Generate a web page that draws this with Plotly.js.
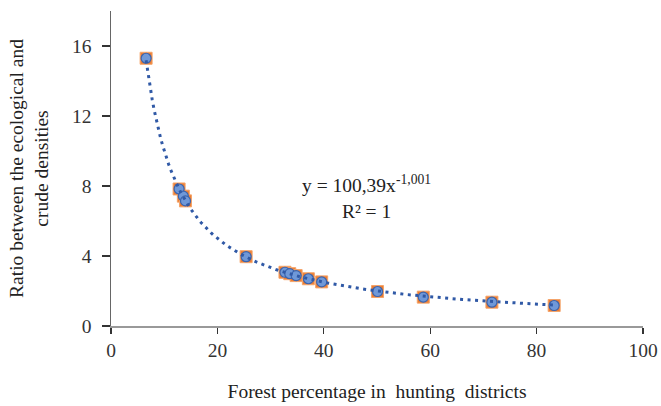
<!DOCTYPE html>
<html>
<head>
<meta charset="utf-8">
<script src="https://cdn.plot.ly/plotly-3.0.1.min.js"></script>
<style>body{margin:0;padding:0;background:#fff}#chart{width:661px;height:406px}</style>
</head>
<body>
<div id="chart"></div>
<script>
// Data
var forestPct = [6.6, 12.8, 13.6, 14.0, 25.4, 32.7, 33.6, 34.8, 37.1, 39.6, 50.1, 58.7, 71.6, 83.3];
var densityRatio = [15.3, 7.83, 7.42, 7.15, 3.96, 3.07, 2.99, 2.88, 2.70, 2.52, 1.97, 1.65, 1.36, 1.17];
// Power trendline coefficients shown on the chart: y = a * x^b
var trendA = 100.39;
var trendB = -1.001;
var xTicks = [0, 20, 40, 60, 80, 100];
var yTicks = [0, 4, 8, 12, 16];

var xMin = Math.min.apply(null, forestPct), xMax = Math.max.apply(null, forestPct);
var tx = [], ty = [];
for (var i = 0; i <= 200; i++) {
  var x = xMin + (xMax - xMin) * i / 200;
  tx.push(x); ty.push(trendA * Math.pow(x, trendB));
}

var font = 'Liberation Serif, Times New Roman, serif';
var traces = [
  {x: forestPct, y: densityRatio, mode: 'markers', type: 'scatter',
   marker: {symbol: 'square', size: 12, color: '#ED7D31', line: {color: '#F4A46A', width: 1}}, hoverinfo: 'none'},
  {x: forestPct, y: densityRatio, mode: 'markers', type: 'scatter',
   marker: {symbol: 'circle', size: 10, color: '#6F98D8', line: {color: '#3B64AD', width: 1.2}}, hoverinfo: 'none'},
  {x: tx, y: ty, mode: 'lines', type: 'scatter',
   line: {color: '#3059A6', width: 3, dash: '3px,4.5px'}, hoverinfo: 'none'}
];

var layout = {
  width: 661, height: 406,
  margin: {l: 111, r: 18, t: 11, b: 80},
  showlegend: false,
  paper_bgcolor: '#fff', plot_bgcolor: '#fff',
  font: {family: font, size: 19.5, color: '#333'},
  xaxis: {
    range: [0, 100], tickvals: xTicks, ticktext: xTicks.map(String),
    showgrid: false, zeroline: false, showline: true, linecolor: '#999', linewidth: 1.5,
    ticks: 'outside', ticklen: 6, tickcolor: '#333', tickwidth: 1.2,
    tickfont: {family: font, size: 19.5, color: '#333'},
    title: {text: 'Forest percentage in\u00a0 hunting\u00a0 districts', font: {family: font, size: 19.5, color: '#222'}, standoff: 24}
  },
  yaxis: {
    range: [0, 18], tickvals: yTicks, ticktext: yTicks.map(String),
    showgrid: false, zeroline: false, showline: true, linecolor: '#666', linewidth: 1.5,
    ticks: 'outside', ticklen: 8, tickcolor: '#333', tickwidth: 1.2, ticklabelstandoff: 6,
    tickfont: {family: font, size: 19.5, color: '#333'},
    title: {text: 'Ratio between the ecological and<br>crude densities', font: {family: font, size: 19.5, color: '#222'}, standoff: 18}
  },
  annotations: [
    {xref: 'paper', yref: 'paper', x: 0.48, y: 0.41, xanchor: 'center', yanchor: 'middle', showarrow: false,
     align: 'center',
     text: 'y = 100,39x<sup>-1,001</sup><br>R² = 1', font: {family: font, size: 19.5, color: '#222'}}
  ]
};
Plotly.newPlot('chart', traces, layout, {staticPlot: true, displayModeBar: false});
</script>
</body>
</html>
